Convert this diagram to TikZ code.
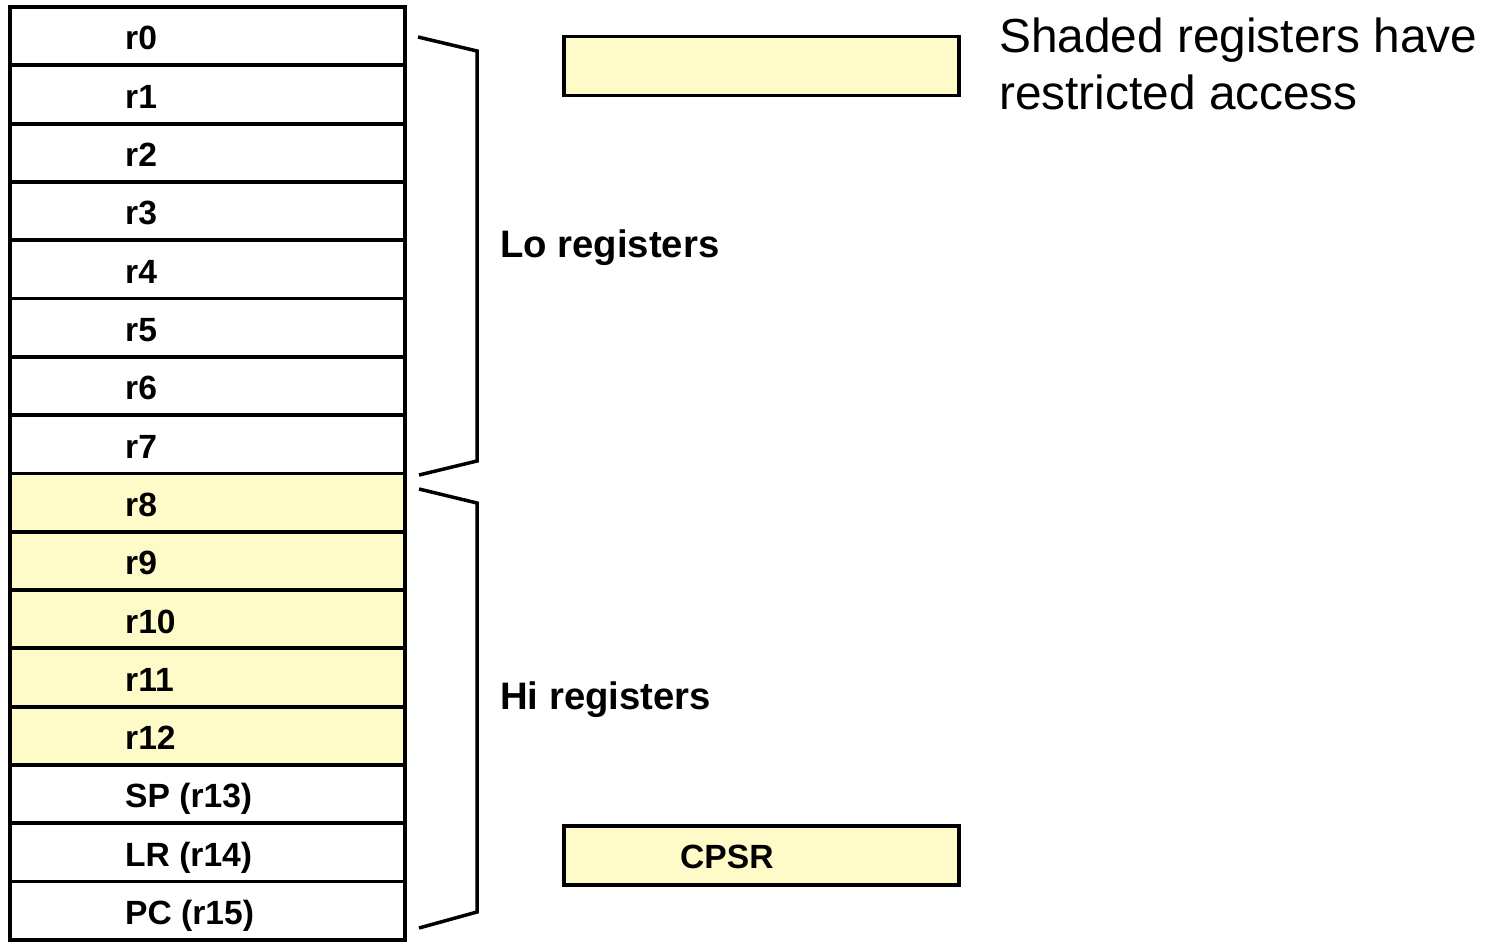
\documentclass[tikz,border=0pt]{standalone}
\usepackage{fontspec}
\setmainfont{Liberation Sans}
\definecolor{shade}{RGB}{255,251,200}
\begin{document}
\begin{tikzpicture}[x=1pt,y=-1pt,
  regbox/.style={draw=black,line width=3.8pt,minimum width=395pt,minimum height=58.3pt,inner sep=0pt},
  regtext/.style={anchor=base west,inner sep=0pt,font=\fontsize{33.6}{40}\selectfont\bfseries},
  grouplabel/.style={anchor=base west,inner sep=0pt,font=\fontsize{38.3}{46}\selectfont\bfseries},
  bracket/.style={line width=3.5pt,line join=miter}]
\useasboundingbox (0,0) rectangle (1485,942);
\fill[white] (0,0) rectangle (1485,942);
% register boxes
\foreach \i/\f in {0/white,1/white,2/white,3/white,4/white,5/white,6/white,7/white,
  8/shade,9/shade,10/shade,11/shade,12/shade,13/white,14/white,15/white}{
  \node[regbox,fill=\f] (reg\i) at (207.5,{36.15+58.3*\i}) {};
}
\foreach \i/\t in {0/r0,1/r1,2/r2,3/r3,4/r4,5/r5,6/r6,7/r7,8/r8,9/r9,10/r10,11/r11,12/r12,13/SP (r13),14/LR (r14),15/PC (r15)}{
  \node[regtext] (lab\i) at (125,{50+58.3*\i}) {\t};
}
% brackets
\draw[bracket] (418,37) -- (477,51) -- (477,461) -- (419,475);
\draw[bracket] (419,489) -- (477,503) -- (477,912) -- (419,928);
\node[grouplabel] (lo) at (500,257) {Lo registers};
\node[grouplabel] (hi) at (500,709) {Hi registers};
% legend and CPSR
\node[regbox,fill=shade,minimum height=59pt] (legend) at (761.5,66) {};
\node[regbox,fill=shade,minimum height=59pt] (cpsr) at (761.5,855.5) {};
\node[regtext] (cpsrtext) at (680,868) {CPSR};
\node[anchor=north west,inner sep=0pt,align=left,font=\fontsize{47.8}{57}\selectfont] (note) at (999,18) {Shaded registers have\\restricted access};
\end{tikzpicture}
\end{document}
